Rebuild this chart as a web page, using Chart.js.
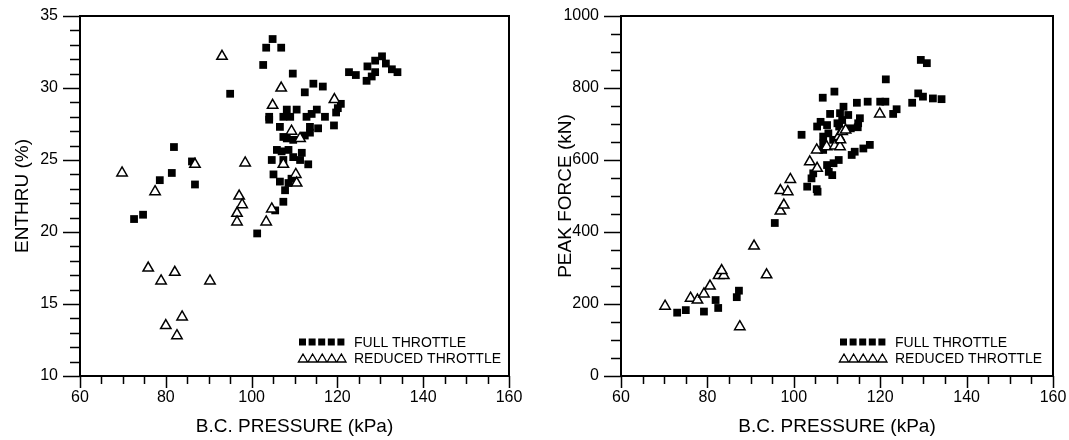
<!DOCTYPE html>
<html>
<head>
<meta charset="utf-8">
<script src="https://cdn.jsdelivr.net/npm/chart.js@4.4.0/dist/chart.umd.min.js"></script>
<style>
  html, body { margin: 0; padding: 0; background: #fff; }
  #wrap { position: relative; width: 1069px; height: 440px; overflow: hidden; }
  .box { position: absolute; top: 0; height: 440px; }
  #left { left: 0; width: 535px; }
  #right { left: 535px; width: 534px; }
</style>
</head>
<body>
<div id="wrap">
  <div class="box" id="left"><canvas id="enthruChart" width="535" height="440"></canvas></div>
  <div class="box" id="right"><canvas id="forceChart" width="534" height="440"></canvas></div>
</div>
<script>
// Tick labels
const pressureTicks = [60, 80, 100, 120, 140, 160];
const enthruTicks = [10, 15, 20, 25, 30, 35];
const forceTicks = [0, 200, 400, 600, 800, 1000];

// ENTHRU (%) vs B.C. pressure (kPa)
const enthruFullPressure = [104.9, 103.4, 106.9, 102.7, 109.6, 114.4, 112.4, 116.6, 120.8, 120.1,
  119.7, 119.2, 95.0, 104.1, 104.1, 108.2, 110.5, 107.4, 109.0, 112.8,
  114.0, 115.2, 117.1, 115.5, 113.6, 113.6, 112.4, 106.6, 107.4, 108.2,
  109.7, 105.9, 107.0, 108.6, 104.7, 107.4, 109.7, 111.7, 111.3, 113.2,
  105.1, 106.6, 108.6, 109.3, 107.8, 107.4, 105.5, 101.3, 81.9, 86.1,
  81.4, 78.6, 86.8, 72.6, 74.7, 122.7, 124.3, 127.0, 128.8, 130.4,
  131.3, 132.7, 134.0, 128.8, 128.0, 126.8];
const enthruFullValue = [33.4, 32.8, 32.8, 31.6, 31.0, 30.3, 29.7, 30.1, 28.9, 28.6,
  28.3, 27.4, 29.6, 28.0, 27.8, 28.5, 28.5, 28.0, 28.0, 28.0,
  28.2, 28.5, 28.0, 27.2, 27.3, 26.9, 26.7, 27.3, 26.6, 26.5,
  26.4, 25.7, 25.6, 25.7, 25.0, 25.0, 25.2, 25.5, 25.0, 24.7,
  24.0, 23.5, 23.4, 23.7, 22.9, 22.1, 21.5, 19.9, 25.9, 24.9,
  24.1, 23.6, 23.3, 20.9, 21.2, 31.1, 30.9, 31.5, 31.9, 32.2,
  31.7, 31.3, 31.1, 31.1, 30.8, 30.5];
const enthruReducedPressure = [93.1, 106.9, 104.9, 119.3, 109.3, 111.3, 107.4, 110.3, 110.5, 104.7,
  86.8, 98.5, 69.8, 77.5, 97.1, 97.8, 96.6, 96.6, 103.4, 75.9,
  78.9, 82.1, 90.3, 83.8, 80.0, 82.6];
const enthruReducedValue = [32.2, 30.0, 28.8, 29.2, 27.0, 26.5, 24.7, 24.0, 23.4, 21.6,
  24.7, 24.8, 24.1, 22.8, 22.5, 21.9, 21.3, 20.7, 20.7, 17.5,
  16.6, 17.2, 16.6, 14.1, 13.5, 12.8];

// Peak force (kN) vs B.C. pressure (kPa)
const forceFullPressure = [73.0, 75.0, 79.2, 81.9, 82.5, 86.8, 87.3, 95.6, 101.8, 103.1,
  105.3, 104.5, 104.1, 105.5, 108.1, 108.9, 107.7, 109.2, 110.4, 113.4,
  114.1, 116.1, 117.6, 106.8, 106.8, 109.1, 106.8, 108.0, 106.2, 105.4,
  107.7, 110.1, 111.2, 110.5, 113.2, 114.8, 115.3, 114.9, 108.4, 110.7,
  112.6, 111.5, 114.6, 117.1, 120.0, 121.2, 123.8, 123.0, 106.7, 109.4,
  121.3, 129.4, 130.8, 128.8, 129.9, 132.2, 134.2, 127.4];
const forceFullValue = [176, 183, 179, 211, 189, 219, 237, 425, 670, 526,
  519, 563, 549, 512, 567, 558, 586, 591, 600, 614,
  623, 632, 642, 628, 646, 656, 665, 674, 706, 693,
  697, 702, 711, 693, 688, 691, 716, 702, 728, 730,
  725, 748, 759, 762, 762, 762, 741, 728, 773, 790,
  824, 878, 869, 785, 776, 771, 769, 759];
const forceReducedPressure = [70.2, 76.1, 77.7, 79.2, 80.6, 82.6, 83.8, 83.3, 87.5, 90.8,
  93.7, 96.9, 97.7, 96.9, 98.6, 99.2, 103.7, 105.4, 105.3, 107.6,
  109.5, 110.7, 110.4, 110.8, 111.2, 112.0, 119.9];
const forceReducedValue = [194, 216, 211, 228, 250, 279, 279, 293, 137, 361,
  281, 458, 475, 515, 512, 546, 595, 577, 628, 637,
  639, 637, 665, 656, 679, 683, 728];

const FONT = "'Liberation Sans', Arial, sans-serif";

function toPoints(xs, ys) {
  return xs.map((x, i) => ({ x: x, y: ys[i] }));
}

// box around the plot, outward ticks (long on labelled values), legend rows
const framePlugin = {
  id: 'frame',
  afterDraw(chart, args, opts) {
    const ctx = chart.ctx;
    const a = chart.chartArea;
    const xs = chart.scales.x, ys = chart.scales.y;
    ctx.save();
    ctx.strokeStyle = '#000';
    ctx.lineWidth = 2;
    ctx.strokeRect(a.left, a.top, a.right - a.left, a.bottom - a.top);

    ctx.lineWidth = 1.5;
    ctx.beginPath();
    xs.ticks.forEach(t => {
      const px = Math.round(xs.getPixelForValue(t.value)) + 0.5;
      const len = pressureTicks.includes(t.value) ? 12 : 8;
      ctx.moveTo(px, a.bottom);
      ctx.lineTo(px, a.bottom + len);
    });
    ys.ticks.forEach(t => {
      const py = Math.round(ys.getPixelForValue(t.value)) + 0.5;
      const len = opts.yLabels.includes(t.value) ? 17 : 10;
      ctx.moveTo(a.left, py);
      ctx.lineTo(a.left - len, py);
    });
    ctx.stroke();

    // legend
    const lx = a.left + 219, tx = a.left + 274;
    const r1 = a.bottom - 34, r2 = a.bottom - 18;
    ctx.fillStyle = '#000';
    for (let i = 0; i < 5; i++) {
      ctx.fillRect(lx + i * 9.6, r1 - 3.5, 7, 7);
    }
    ctx.lineWidth = 1.3;
    ctx.beginPath();
    for (let i = 0; i < 5; i++) {
      const cx = lx + 4 + i * 9.6;
      ctx.moveTo(cx - 4.6, r2 + 4);
      ctx.lineTo(cx, r2 - 4);
      ctx.lineTo(cx + 4.6, r2 + 4);
      ctx.closePath();
    }
    ctx.stroke();
    ctx.font = '14px ' + FONT;
    ctx.textBaseline = 'middle';
    ctx.fillText('FULL THROTTLE', tx, r1 + 1);
    ctx.fillText('REDUCED THROTTLE', tx, r2 + 1);
    ctx.restore();
  }
};

function makeChart(canvasId, full, reduced, yMin, yMax, yStep, yLabels, yTitle, axisWidth, titlePad, padRight) {
  return new Chart(document.getElementById(canvasId), {
    type: 'scatter',
    data: {
      datasets: [
        {
          label: 'REDUCED THROTTLE',
          data: reduced,
          order: 1,
          pointStyle: 'triangle',
          pointRadius: 6,
          pointBorderWidth: 1.5,
          pointBackgroundColor: '#fff',
          pointBorderColor: '#000'
        },
        {
          label: 'FULL THROTTLE',
          data: full,
          order: 2,
          pointStyle: 'rect',
          pointRadius: 5.5,
          pointBorderWidth: 0,
          pointBackgroundColor: '#000',
          pointBorderColor: '#000'
        }
      ]
    },
    options: {
      responsive: false,
      animation: false,
      layout: { padding: { top: 16, right: padRight, left: 0, bottom: 0 } },
      plugins: {
        legend: { display: false },
        tooltip: { enabled: false },
        frame: { yLabels: yLabels }
      },
      scales: {
        x: {
          type: 'linear',
          min: 60, max: 160,
          afterFit(scale) { scale.height = 64; },
          border: { display: false },
          grid: { drawOnChartArea: false, drawTicks: true, tickLength: 10, color: 'rgba(0,0,0,0)' },
          ticks: {
            stepSize: 5, autoSkip: false, maxRotation: 0, padding: 2,
            color: '#000', font: { family: FONT, size: 16 },
            callback: v => pressureTicks.includes(v) ? String(v) : ''
          },
          title: {
            display: true, text: 'B.C. PRESSURE (kPa)', color: '#000',
            font: { family: FONT, size: 19 }, padding: { top: 0, bottom: 2 }
          }
        },
        y: {
          type: 'linear',
          min: yMin, max: yMax,
          afterFit(scale) { scale.width = axisWidth; },
          border: { display: false },
          grid: { drawOnChartArea: false, drawTicks: true, tickLength: 17, color: 'rgba(0,0,0,0)' },
          ticks: {
            stepSize: yStep, autoSkip: false, padding: 5,
            color: '#000', font: { family: FONT, size: 16 },
            callback: v => yLabels.includes(v) ? String(v) : ''
          },
          title: {
            display: true, text: yTitle, color: '#000',
            font: { family: FONT, size: 19 }, padding: { top: titlePad, bottom: 0 }
          }
        }
      }
    },
    plugins: [framePlugin]
  });
}

makeChart('enthruChart',
  toPoints(enthruFullPressure, enthruFullValue),
  toPoints(enthruReducedPressure, enthruReducedValue),
  10, 35, 1, enthruTicks, 'ENTHRU (%)', 80, 11, 26);

makeChart('forceChart',
  toPoints(forceFullPressure, forceFullValue),
  toPoints(forceReducedPressure, forceReducedValue),
  0, 1000, 50, forceTicks, 'PEAK FORCE (kN)', 86, 19, 16);
</script>
</body>
</html>
